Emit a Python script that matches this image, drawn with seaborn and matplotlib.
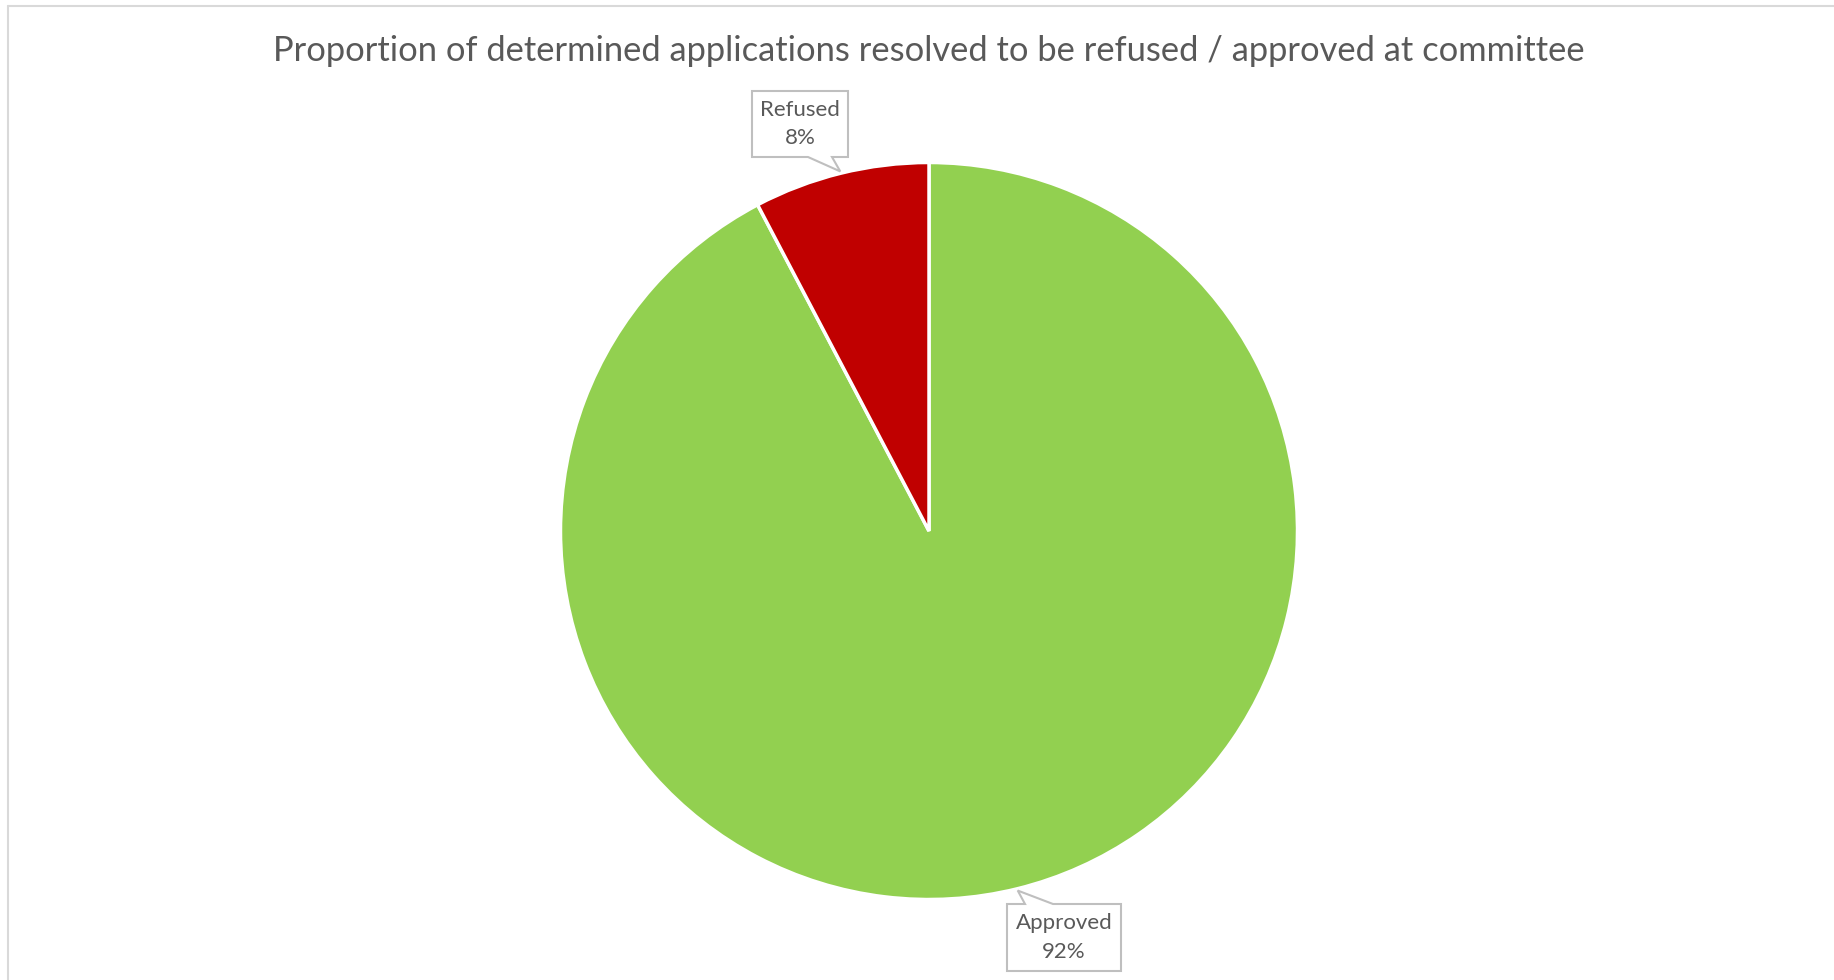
import numpy as np
import matplotlib
matplotlib.use("Agg")
import matplotlib.pyplot as plt
from matplotlib.patches import Polygon
from matplotlib.lines import Line2D
import seaborn as sns

# ---- data ----
categories = ["Approved", "Refused"]
values = [92.3, 7.7]
label_pct = ["92%", "8%"]
colors = ["#92D050", "#C00000"]
title = "Proportion of determined applications resolved to be refused / approved at committee"

sns.set_theme(style="white")
plt.rcParams["font.family"] = ["Lato", "DejaVu Sans"]

W, H = 1834, 980
fig = plt.figure(figsize=(W / 100, H / 100), dpi=100)
fig.patch.set_facecolor("white")

cx, cy, R = 929, 531, 368.5
ax = fig.add_axes([(cx - R) / W, (H - cy - R) / H, 2 * R / W, 2 * R / H])

wedges, _ = ax.pie(values, colors=colors, startangle=90, counterclock=False,
                   radius=1, wedgeprops=dict(edgecolor="white", linewidth=2.5))
ax.set_xlim(-1, 1)
ax.set_ylim(-1, 1)
ax.set_aspect("equal")
ax.axis("off")

def px2d(px, py):
    return ((px - cx) / R, (cy - py) / R)

# callout boxes: (center px, width, height, pointer base offsets along the edge, side)
boxes = {
    "Refused": dict(c=(800, 124), w=96, h=66, base=(8, 32), side="bottom"),
    "Approved": dict(c=(1064, 937.5), w=114, h=67, base=(-39, -11), side="top"),
}
txt_color = "#595959"
edge_color = "#BFBFBF"
for w, cat, pct in zip(wedges, categories, label_pct):
    mid = np.deg2rad((w.theta1 + w.theta2) / 2)
    tip = (np.cos(mid) * 1.005, np.sin(mid) * 1.005)
    b = boxes[cat]
    bx, by = b["c"]
    hw, hh = b["w"] / 2, b["h"] / 2
    l, r, t, btm = bx - hw, bx + hw, by - hh, by + hh
    b0, b1 = bx + b["base"][0], bx + b["base"][1]
    tip_px = (cx + tip[0] * R, cy - tip[1] * R)
    if b["side"] == "bottom":
        pts = [(l, t), (r, t), (r, btm), (b1, btm), tip_px, (b0, btm), (l, btm)]
    else:
        pts = [(l, t), (b0, t), tip_px, (b1, t), (r, t), (r, btm), (l, btm)]
    poly = Polygon([px2d(*p) for p in pts], closed=True, facecolor="white",
                   edgecolor=edge_color, linewidth=1.5, clip_on=False, zorder=5)
    ax.add_patch(poly)
    ax.text(*px2d(bx, by), f"{cat}\n{pct}", ha="center", va="center",
            fontsize=16, color=txt_color, linespacing=1.55, zorder=6)

fig.text(cx / W, 1 - 51 / H, title, ha="center", va="center",
         fontsize=24.8, color=txt_color)

# chart-area border (top and left visible)
bc = "#D9D9D9"
fig.add_artist(Line2D([8 / W, 1], [1 - 6 / H, 1 - 6 / H], color=bc, linewidth=1.5,
                      transform=fig.transFigure))
fig.add_artist(Line2D([8 / W, 8 / W], [0, 1 - 6 / H], color=bc, linewidth=1.5,
                      transform=fig.transFigure))

fig.savefig("out.png", dpi=100, facecolor="white")
